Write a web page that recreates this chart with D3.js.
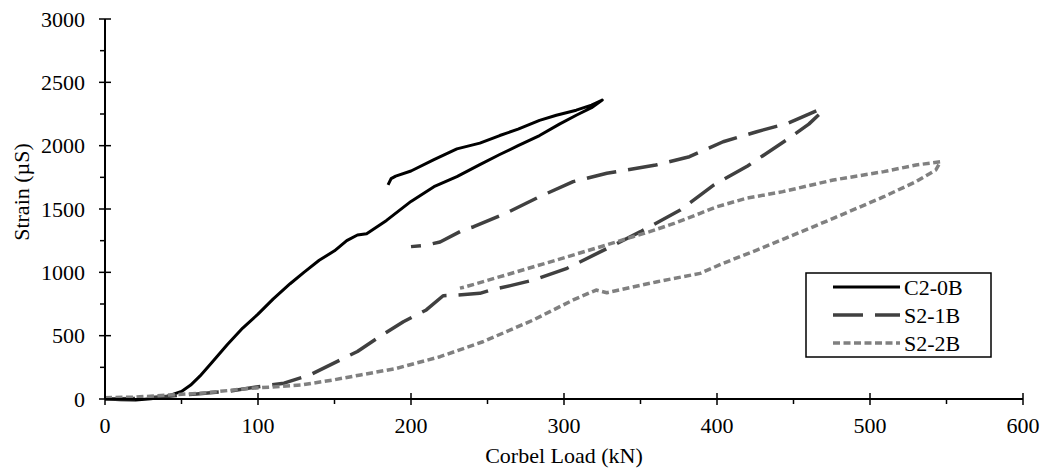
<!DOCTYPE html>
<html>
<head>
<meta charset="utf-8">
<script src="https://cdn.jsdelivr.net/npm/d3@7"></script>
<style>
  body { margin: 0; background: #fff; }
  svg { display: block; }
  text { font-family: "Liberation Serif", "Times New Roman", serif; fill: #000; }
</style>
</head>
<body>
<div id="chart"></div>
<script>
// värden: [last kN, töjning µS]
var c20b = [[0,0],[10,-5],[20,-8],[30,2],[40,18],[50,60],[56,110],[62,180],[70,290],[80,430],[90,560],[100,670],[110,790],[121,910],[130,1000],[140,1095],[150,1170],[158,1250],[165,1295],[171,1305],[184,1410],[200,1560],[215,1676],[230,1755],[245,1850],[258,1930],[270,2000],[284,2080],[297,2170],[308,2240],[318,2300],[325,2360],
  [318,2320],[308,2280],[295,2240],[284,2200],[270,2130],[258,2080],[245,2020],[230,1975],[215,1890],[200,1800],[190,1760],[187,1740],[185,1690]];
var s21b = [[0,0],[20,5],[40,20],[60,40],[80,60],[99,95],[117,125],[134,190],[154,310],[165,375],[178,480],[195,610],[210,703],[221,815],[230,821],[245,834],[252,860],[265,895],[280,939],[302,1032],[324,1163],[350,1321],[376,1492],[398,1690],[420,1840],[446,2050],[460,2170],[468,2260],
  [468,2290],[446,2176],[426,2110],[404,2031],[382,1913],[360,1847],[328,1782],[306,1716],[284,1597],[262,1466],[241,1360],[234,1334],[219,1240],[210,1215],[200,1203]];
var s22b = [[0,10],[20,15],[40,30],[62,45],[95,84],[128,110],[149,150],[167,190],[190,240],[219,334],[247,452],[280,624],[306,782],[321,860],[328,839],[361,926],[389,992],[404,1071],[426,1176],[445,1270],[476,1426],[509,1597],[530,1716],[543,1808],[546,1873],
  [530,1847],[509,1795],[476,1729],[443,1637],[419,1584],[400,1518],[389,1466],[372,1387],[356,1321],[345,1281],[324,1202],[295,1097],[262,979],[236,887],[232,875]];
var seriesNames = ['C2-0B', 'S2-1B', 'S2-2B'];
var xTicks = [0, 100, 200, 300, 400, 500, 600];
var yTicks = [0, 500, 1000, 1500, 2000, 2500, 3000];

var width = 1051, height = 470;
var pLeft = 105, pRight = 1023, pTop = 19, pBottom = 399;
var fs = '22px';

var svg = d3.select('#chart').append('svg')
    .attr('width', width)
    .attr('height', height);

var x = d3.scaleLinear().domain([0, 600]).range([pLeft, pRight]);
var y = d3.scaleLinear().domain([0, 3000]).range([pBottom, pTop]);

// stilar för serierna
var styles = [
  { color: '#000000', dash: null, w: 3 },
  { color: '#404040', dash: '30,12', w: 3.5 },
  { color: '#808080', dash: '7,3.5', w: 3.5 }
];
var allData = [c20b, s21b, s22b];

var line = d3.line()
    .x(function (d) { return x(d[0]); })
    .y(function (d) { return y(d[1]); });

svg.selectAll('path.serie')
    .data(allData).enter()
    .append('path')
    .attr('class', 'serie')
    .attr('d', line)
    .attr('fill', 'none')
    .attr('stroke', function (d, i) { return styles[i].color; })
    .attr('stroke-width', function (d, i) { return styles[i].w; })
    .attr('stroke-dasharray', function (d, i) { return styles[i].dash; })
    .attr('stroke-linejoin', 'round');

// y-axel
svg.append('line')
    .attr('x1', pLeft).attr('x2', pLeft)
    .attr('y1', pTop).attr('y2', pBottom)
    .attr('stroke', '#000').attr('stroke-width', 2);
svg.selectAll('line.ymin')
    .data(d3.range(250, 3000, 500)).enter()
    .append('line')
    .attr('x1', pLeft - 5).attr('x2', pLeft)
    .attr('y1', function (d) { return y(d); })
    .attr('y2', function (d) { return y(d); })
    .attr('stroke', '#000').attr('stroke-width', 1.5);
svg.selectAll('line.ymaj')
    .data(yTicks).enter()
    .append('line')
    .attr('x1', pLeft - 6).attr('x2', pLeft + 6)
    .attr('y1', function (d) { return y(d); })
    .attr('y2', function (d) { return y(d); })
    .attr('stroke', '#000').attr('stroke-width', 1.5);
svg.selectAll('text.ylab')
    .data(yTicks).enter()
    .append('text')
    .attr('x', pLeft - 20)
    .attr('y', function (d) { return y(d); })
    .attr('dy', '0.35em')
    .attr('text-anchor', 'end')
    .style('font-size', fs)
    .text(function (d) { return d; });

// x-axel
svg.append('line')
    .attr('x1', pLeft).attr('x2', pRight)
    .attr('y1', pBottom).attr('y2', pBottom)
    .attr('stroke', '#000').attr('stroke-width', 2);
svg.selectAll('line.xmin')
    .data(d3.range(50, 600, 100)).enter()
    .append('line')
    .attr('x1', function (d) { return x(d); })
    .attr('x2', function (d) { return x(d); })
    .attr('y1', pBottom).attr('y2', pBottom + 5)
    .attr('stroke', '#000').attr('stroke-width', 1.5);
svg.selectAll('line.xmaj')
    .data(xTicks).enter()
    .append('line')
    .attr('x1', function (d) { return x(d); })
    .attr('x2', function (d) { return x(d); })
    .attr('y1', pBottom - 6).attr('y2', pBottom + 6)
    .attr('stroke', '#000').attr('stroke-width', 1.5);
svg.selectAll('text.xlab')
    .data(xTicks).enter()
    .append('text')
    .attr('x', function (d) { return x(d); })
    .attr('y', pBottom + 34)
    .attr('text-anchor', 'middle')
    .style('font-size', fs)
    .text(function (d) { return d; });

// axeltitlar
svg.append('text')
    .attr('x', (pLeft + pRight) / 2)
    .attr('y', 463)
    .attr('text-anchor', 'middle')
    .style('font-size', fs)
    .text('Corbel Load (kN)');
svg.append('text')
    .attr('transform', 'translate(29,192) rotate(-90)')
    .attr('text-anchor', 'middle')
    .style('font-size', fs)
    .text('Strain (µS)');

// legend
var lg = svg.append('g');
lg.append('rect')
    .attr('x', 806).attr('y', 273)
    .attr('width', 185).attr('height', 84)
    .attr('fill', '#fff')
    .attr('stroke', '#000').attr('stroke-width', 1.5);
seriesNames.forEach(function (name, i) {
  var ly = 288 + i * 28;
  lg.append('line')
      .attr('x1', 833).attr('x2', 900)
      .attr('y1', ly - 1).attr('y2', ly - 1)
      .attr('stroke', styles[i].color)
      .attr('stroke-width', styles[i].w)
      .attr('stroke-dasharray', styles[i].dash);
  lg.append('text')
      .attr('x', 904).attr('y', ly)
      .attr('dy', '0.33em')
      .style('font-size', fs)
      .text(name);
});
</script>
</body>
</html>
